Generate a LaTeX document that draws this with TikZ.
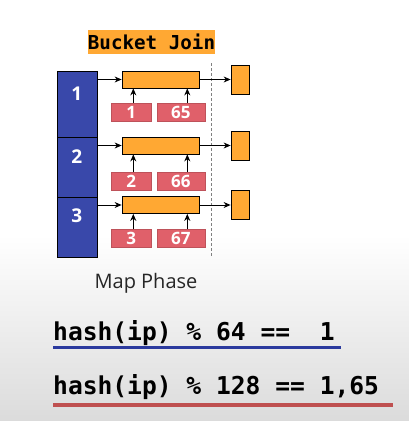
\documentclass[tikz,border=0pt]{standalone}
\usepackage{fontspec}
\setmainfont{Open Sans}
\setmonofont{DejaVu Sans Mono}
\usepackage{tikz}
\usetikzlibrary{arrows.meta,positioning}

\definecolor{joinorange}{HTML}{FFA833}
\definecolor{mapblue}{HTML}{3948AA}
\definecolor{keyred}{HTML}{E0606A}
\definecolor{lineblue}{HTML}{2B3A9E}
\definecolor{linered}{HTML}{BF5050}

\begin{document}
\begin{tikzpicture}[x=1pt,y=-1pt,
  titlebox/.style={fill=joinorange, inner sep=0pt, minimum width=127pt, minimum height=24pt, font=\ttfamily\bfseries\fontsize{19.2}{19}\selectfont},
  cell/.style={draw=black, fill=mapblue, line width=0.8pt, minimum width=40pt, inner sep=0pt},
  cellnum/.style={text=white, font=\bfseries\fontsize{19}{19}\selectfont, inner sep=0pt},
  wide/.style={draw=black, fill=joinorange, line width=0.8pt, minimum width=77pt, minimum height=17pt, inner sep=0pt},
  bucket/.style={draw=black, fill=joinorange, line width=0.8pt, minimum width=18pt, minimum height=29pt, inner sep=0pt},
  key/.style={fill=keyred, draw=keyred!85!black, line width=0.3pt, text=white, minimum height=18pt, inner sep=0pt, text height=12pt, text depth=0pt, font=\bfseries\fontsize{17}{17}\selectfont},
  arr/.style={-{Stealth[length=7pt,width=6pt]}, line width=0.9pt},
  eq/.style={inner sep=0pt, anchor=base west, font=\ttfamily\bfseries\fontsize{24.6}{24}\selectfont}]

\useasboundingbox (0,0) rectangle (409,421);
\fill[white] (0,0) rectangle (409,235);
\shade[top color=white, bottom color=black!14] (0,235) rectangle (409,421);

\node[titlebox] (title) at (151.5,42) {Bucket Join};

% shuffle boundary
\coordinate (sepT) at (211.7,63);
\coordinate (sepB) at (211.7,257);
\draw[dash pattern=on 3pt off 2pt, black!50, line width=0.5pt] (sepT) -- (sepB);

\foreach \i/\top/\h/\yo/\yr/\yn/\ka/\kb in {1/71/66/79.5/112/94/1/65, 2/137/60/145.5/181/157/2/66, 3/197/60/205/238.5/216/3/67}
{
  \node[cell, minimum height=\h pt, anchor=north west] (c\i) at (56.7,\top) {};
  \node[cellnum] (n\i) at (76.7,\yn) {\i};
  \node[wide] (o\i) at (160.5,\yo) {};
  \node[key, minimum width=40pt] (ra\i) at (131.3,\yr) {\ka};
  \node[key, minimum width=48pt] (rb\i) at (180.8,\yr) {\kb};
  \node[bucket] (s\i) at (240,\yo) {};
  \draw[arr] (c\i.east |- o\i.west) -- (o\i.west);
  \draw[arr] ([xshift=2pt]ra\i.north) -- ([xshift=2pt]ra\i.north |- o\i.south);
  \draw[arr] ([xshift=6.5pt]rb\i.north) -- ([xshift=6.5pt]rb\i.north |- o\i.south);
  \draw[arr] (o\i.east) -- (s\i.west);
}

\node[anchor=base, inner sep=0pt, text=black!85, font=\fontsize{20}{20}\selectfont] (phase) at (146,288) {Map Phase};

\node[eq] (eq1) at (53,340) {hash(ip) \% 64 ==\ \ 1};
\node[eq] (eq2) at (53,394) {hash(ip) \% 128 == 1,65};

\coordinate (u1a) at (53,347.5);
\coordinate (u1b) at (341,347.5);
\coordinate (u2a) at (53,405);
\coordinate (u2b) at (393,405);
\draw[lineblue, line width=3pt] (u1a) -- (u1b);
\draw[linered, line width=3.5pt] (u2a) -- (u2b);

\end{tikzpicture}
\end{document}
